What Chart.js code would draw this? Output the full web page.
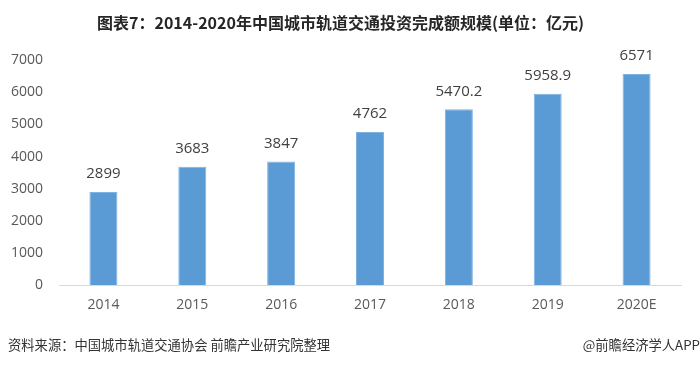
<!DOCTYPE html>
<html>
<head>
<meta charset="utf-8">
<script src="https://cdn.jsdelivr.net/npm/chart.js@4.4.0/dist/chart.umd.min.js"></script>
<style>
    html, body { margin: 0; padding: 0; background: #fff; }
    #wrap { position: relative; width: 700px; height: 366px; }
    .nota { position: absolute; top: 336px; font-family: "Noto Sans CJK SC", sans-serif; font-size: 13.3px; color: #333; white-space: nowrap; line-height: 18px; }
    #fuente { left: 8px; }
    #marca { right: 0; }
</style>
</head>
<body>
<div id="wrap">
    <canvas id="grafico" width="700" height="366"></canvas>
    <div class="nota" id="fuente">资料来源：中国城市轨道交通协会 前瞻产业研究院整理</div>
    <div class="nota" id="marca">@前瞻经济学人APP</div>
</div>
<script>
// Datos del gráfico
const anios = ['2014', '2015', '2016', '2017', '2018', '2019', '2020E'];
const inversion = [2899, 3683, 3847, 4762, 5470.2, 5958.9, 6571];
const etiquetas = ['2899', '3683', '3847', '4762', '5470.2', '5958.9', '6571'];
const ticksY = [0, 1000, 2000, 3000, 4000, 5000, 6000, 7000];

// Etiquetas de valor encima de cada barra
const valoresPlugin = {
    id: 'valores',
    afterDatasetsDraw(chart) {
        const ctx = chart.ctx;
        const meta = chart.getDatasetMeta(0);
        ctx.save();
        ctx.font = '15px "Open Sans", sans-serif';
        ctx.fillStyle = '#404040';
        ctx.textAlign = 'center';
        ctx.textBaseline = 'middle';
        meta.data.forEach((bar, i) => {
            ctx.fillText(etiquetas[i], bar.x, bar.y - 18);
        });
        ctx.restore();
    }
};

new Chart(document.getElementById('grafico'), {
    type: 'bar',
    data: {
        labels: anios,
        datasets: [{
            data: inversion,
            backgroundColor: '#5B9BD5',
            borderColor: '#7FB2E0',
            borderWidth: 1,
            categoryPercentage: 1,
            barPercentage: 0.315
        }]
    },
    options: {
        responsive: false,
        animation: false,
        layout: { padding: { left: 0, right: 19, top: 0, bottom: 0 } },
        scales: {
            y: {
                min: 0,
                max: 7000,
                afterFit: (scale) => { scale.width = 59; },
                afterBuildTicks: (scale) => { scale.ticks = ticksY.map(v => ({ value: v })); },
                grid: { display: false, drawTicks: false },
                border: { display: false },
                ticks: {
                    padding: 16,
                    color: '#595959',
                    callback: (v) => String(v),
                    font: { family: '"Open Sans", sans-serif', size: 14 }
                }
            },
            x: {
                afterFit: (scale) => { scale.height = 81; },
                grid: { display: false, drawTicks: false },
                border: { display: true, color: '#D9D9D9', width: 1 },
                ticks: {
                    padding: 12,
                    color: '#595959',
                    font: { family: '"Open Sans", sans-serif', size: 14 }
                }
            }
        },
        plugins: {
            legend: { display: false },
            tooltip: { enabled: false },
            title: {
                display: true,
                text: '图表7：2014-2020年中国城市轨道交通投资完成额规模(单位：亿元)',
                color: '#262626',
                font: { family: '"Noto Sans CJK SC", sans-serif', size: 16, weight: 'bold' },
                padding: { top: 13, bottom: 28 }
            }
        }
    },
    plugins: [valoresPlugin]
});
</script>
</body>
</html>
